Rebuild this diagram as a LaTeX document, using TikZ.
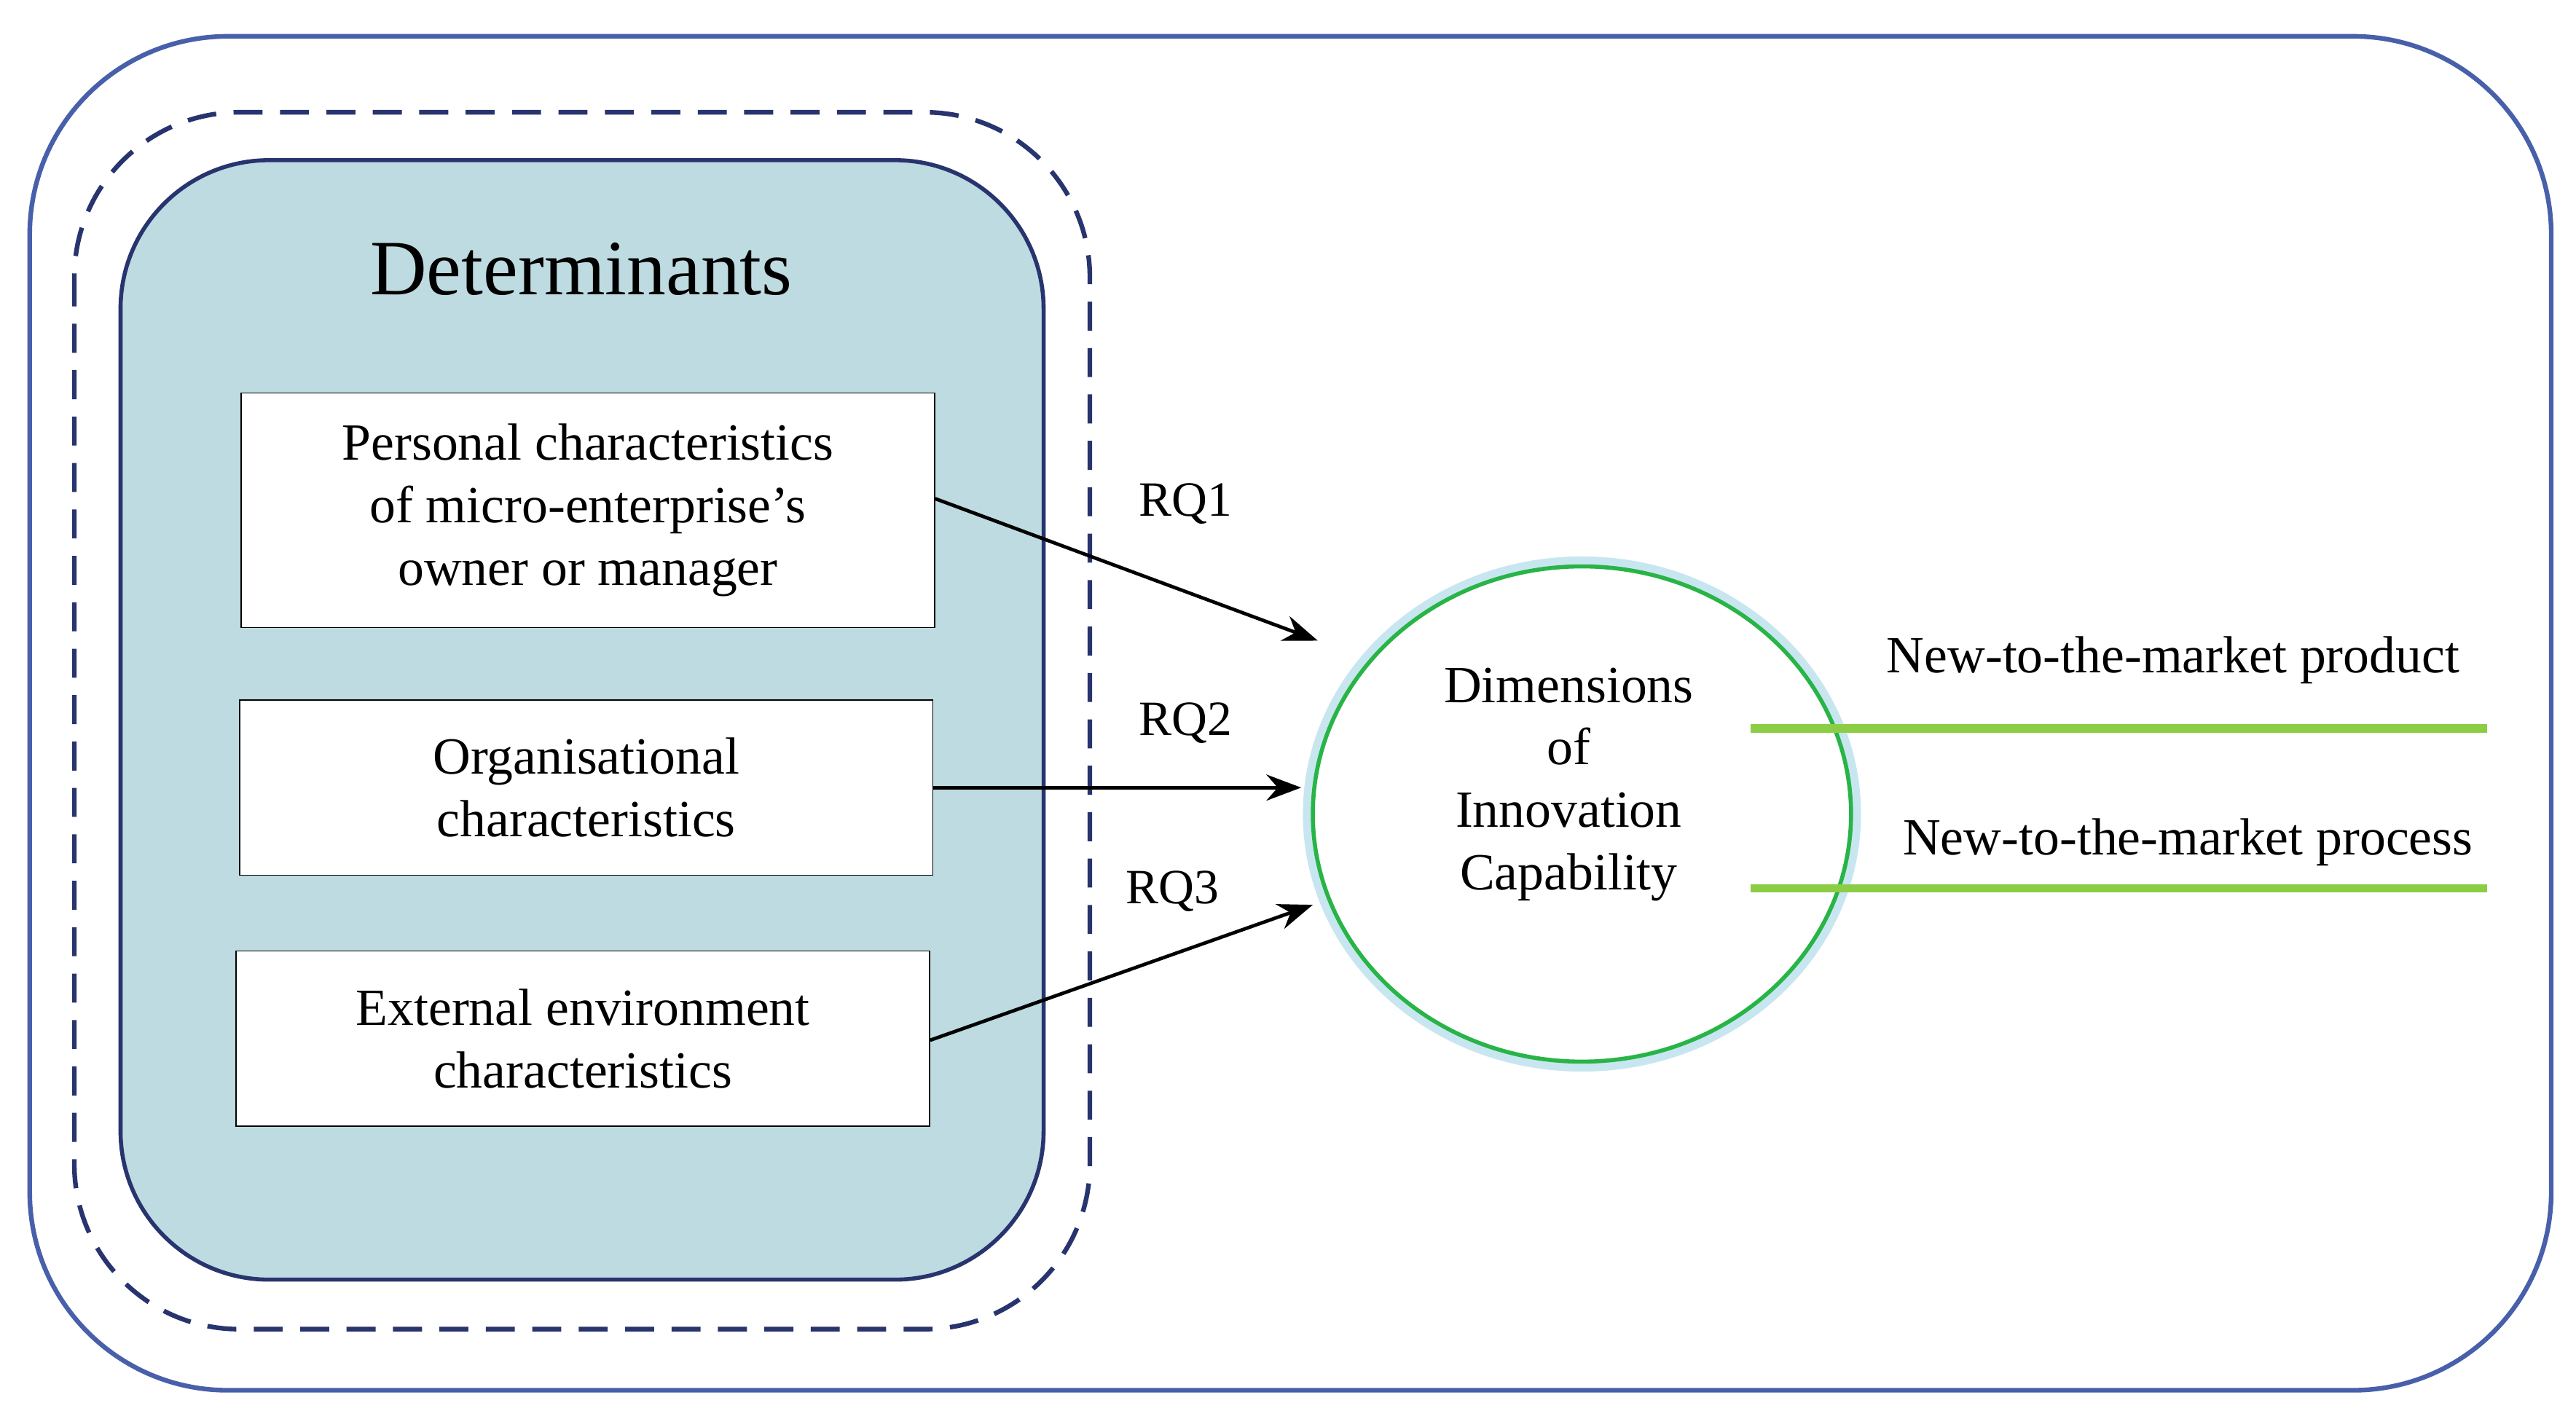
\documentclass[tikz,border=0pt]{standalone}
\usepackage{fontspec}
\setmainfont{Liberation Serif}
\usetikzlibrary{positioning,arrows.meta,shapes.geometric}
\definecolor{frameblue}{RGB}{72,96,170}
\definecolor{darkblue}{RGB}{40,52,110}
\definecolor{detfill}{RGB}{189,219,224}
\definecolor{dimgreen}{RGB}{40,180,70}
\definecolor{linegreen}{RGB}{140,205,70}
\definecolor{glow}{RGB}{200,230,240}
\begin{document}
\begin{tikzpicture}[%
x=0.02cm,y=-0.02cm,%
charbox/.style={draw,fill=white,minimum width=8.4cm,align=center,font=\fontsize{18}{21.5}\selectfont},%
trans/.style={-{Stealth[length=12pt,width=9pt]},line width=1.2pt},%
rqlabel/.style={font=\fontsize{17}{20}\selectfont},%
mkt/.style={linegreen,line width=3pt},%
  ]
    \useasboundingbox (0,0) rectangle (1560,859);
    \draw[frameblue,line width=1.6pt,rounded corners=2.4cm] (18,22) rectangle (1545,842);
    \draw[darkblue,line width=1.6pt,dashed,dash pattern=on 10pt off 6pt,rounded corners=2cm] (45,68) rectangle (660,805);
    \draw[darkblue,line width=1.4pt,fill=detfill,rounded corners=1.8cm] (73,97) rectangle (632,775);

    \node (det) at (352,163) {\fontsize{27}{30}\selectfont Determinants};

    \node[charbox,minimum height=2.84cm] (pers) at (356,309) {Personal characteristics\\of micro-enterprise’s\\owner or manager};
    \node[charbox,minimum height=2.12cm] (org) at (355,477) {Organisational\\characteristics};
    \node[charbox,minimum height=2.12cm] (ext) at (353,629) {External environment\\characteristics};

    % circle with glow
    \fill[glow] (958,493) ellipse [x radius=169,y radius=156];
    \fill[white] (958,493) ellipse [x radius=163,y radius=150];
    \node[draw=dimgreen,line width=1.4pt,ellipse,minimum width=6.52cm,minimum height=6cm,inner sep=0pt] (dim) at (958,493) {};
    \node[align=center,font=\fontsize{18}{21.5}\selectfont] (dimtext) at (950,475) {Dimensions\\of\\Innovation\\Capability};

    \coordinate (e1) at (798,388);
    \coordinate (e2) at (788,477);
    \coordinate (e3) at (795,548);
    \draw[trans] (pers.east |- 0,302) -- (e1);
    \draw[trans] (org.east) -- (e2);
    \draw[trans] (ext.east |- 0,630) -- (e3);

    \node[rqlabel] (rq1) at (718,305) {RQ1};
    \node[rqlabel] (rq2) at (718,438) {RQ2};
    \node[rqlabel] (rq3) at (710,540) {RQ3};

    \coordinate (p1) at (1060,441);
    \coordinate (p2) at (1506,441);
    \coordinate (q1) at (1060,538);
    \coordinate (q2) at (1506,538);
    \draw[mkt] (p1) -- (p2);
    \draw[mkt] (q1) -- (q2);
    \node[font=\fontsize{18}{21.5}\selectfont] (prod) at (1316,400) {New-to-the-market product};
    \node[font=\fontsize{18}{21.5}\selectfont] (proc) at (1325,510) {New-to-the-market process};
  \end{tikzpicture}
\end{document}
